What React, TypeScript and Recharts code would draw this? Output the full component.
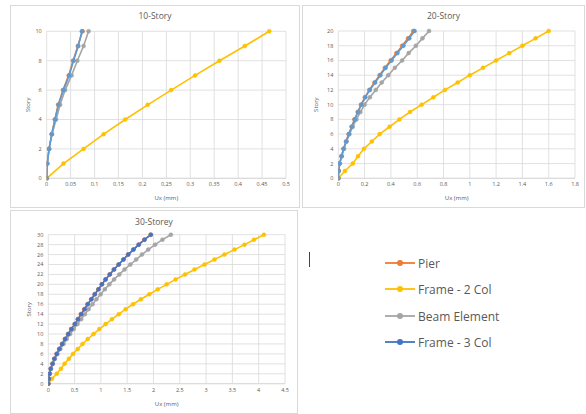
import { LineChart, Line, XAxis, YAxis, CartesianGrid, Label } from 'recharts'

// stories (y values)
const STORY_10 = [0, 1, 2, 3, 4, 5, 6, 7, 8, 9, 10]
const STORY_20 = [0, 1, 2, 3, 4, 5, 6, 7, 8, 9, 10, 11, 12, 13, 14, 15, 16, 17, 18, 19, 20]
const STORY_30 = [
  0, 1, 2, 3, 4, 5, 6, 7, 8, 9, 10, 11, 12, 13, 14, 15, 16, 17, 18, 19, 20, 21, 22, 23, 24, 25, 26,
  27, 28, 29, 30,
]

// Ux (mm) per story, 10-storey model
const PIER_10 = [0, 0.001, 0.005, 0.0105, 0.017, 0.024, 0.034, 0.046, 0.055, 0.065, 0.075]
const FRAME2_10 = [0, 0.035, 0.077, 0.119, 0.164, 0.211, 0.26, 0.31, 0.361, 0.414, 0.465]
const BEAM_10 = [0, 0.001, 0.005, 0.011, 0.0196, 0.028, 0.0385, 0.052, 0.064, 0.077, 0.0875]
const FRAME3_10 = [0, 0.001, 0.005, 0.0105, 0.0175, 0.0245, 0.035, 0.047, 0.056, 0.066, 0.0735]

// 20-storey model
const PIER_20 = [
  0, 0.003, 0.01, 0.024, 0.04, 0.059, 0.079, 0.101, 0.123, 0.148, 0.173, 0.202, 0.236, 0.275,
  0.314, 0.354, 0.398, 0.442, 0.486, 0.53, 0.57,
]
const FRAME2_20 = [
  0, 0.05, 0.11, 0.15, 0.195, 0.255, 0.315, 0.39, 0.465, 0.545, 0.634, 0.723, 0.811, 0.908, 1.0,
  1.1, 1.2, 1.3, 1.4, 1.5, 1.6,
]
const BEAM_20 = [
  0, 0.003, 0.011, 0.026, 0.043, 0.063, 0.085, 0.11, 0.138, 0.168, 0.2, 0.24, 0.285, 0.33, 0.38,
  0.43, 0.485, 0.535, 0.59, 0.64, 0.69,
]
const FRAME3_20 = [
  0, 0.003, 0.01, 0.025, 0.04, 0.06, 0.08, 0.103, 0.125, 0.15, 0.175, 0.205, 0.24, 0.28, 0.32,
  0.36, 0.405, 0.45, 0.495, 0.54, 0.58,
]

// 30-storey model
const PIER_30 = [
  0, 0.01, 0.025, 0.045, 0.078, 0.113, 0.157, 0.207, 0.26, 0.315, 0.375, 0.435, 0.5, 0.56, 0.62,
  0.685, 0.745, 0.815, 0.88, 0.95, 1.015, 1.085, 1.165, 1.245, 1.335, 1.425, 1.515, 1.615, 1.715,
  1.825, 1.945,
]
const FRAME2_30 = [
  0, 0.07, 0.16, 0.24, 0.31, 0.39, 0.47, 0.56, 0.65, 0.75, 0.86, 0.97, 1.09, 1.21, 1.34, 1.47,
  1.61, 1.76, 1.92, 2.08, 2.25, 2.42, 2.6, 2.78, 2.97, 3.16, 3.35, 3.54, 3.73, 3.91, 4.1,
]
const BEAM_30 = [
  0, 0.01, 0.027, 0.05, 0.085, 0.125, 0.175, 0.23, 0.29, 0.35, 0.415, 0.485, 0.555, 0.625, 0.695,
  0.765, 0.84, 0.915, 0.995, 1.075, 1.16, 1.25, 1.35, 1.45, 1.56, 1.67, 1.78, 1.9, 2.03, 2.17,
  2.33,
]
const FRAME3_30 = [
  0, 0.01, 0.025, 0.045, 0.08, 0.115, 0.16, 0.21, 0.265, 0.32, 0.38, 0.44, 0.505, 0.565, 0.625,
  0.69, 0.75, 0.82, 0.885, 0.955, 1.02, 1.09, 1.17, 1.25, 1.34, 1.43, 1.52, 1.62, 1.72, 1.83,
  1.95,
]

// axis ticks
const X_TICKS_10 = [0, 0.05, 0.1, 0.15, 0.2, 0.25, 0.3, 0.35, 0.4, 0.45, 0.5]
const Y_TICKS_10 = [0, 2, 4, 6, 8, 10]
const X_TICKS_20 = [0, 0.2, 0.4, 0.6, 0.8, 1, 1.2, 1.4, 1.6, 1.8]
const Y_TICKS_20 = [0, 2, 4, 6, 8, 10, 12, 14, 16, 18, 20]
const X_TICKS_30 = [0, 0.5, 1, 1.5, 2, 2.5, 3, 3.5, 4, 4.5]
const Y_TICKS_30 = [0, 2, 4, 6, 8, 10, 12, 14, 16, 18, 20, 22, 24, 26, 28, 30]

const SERIES_NAMES = ['Pier', 'Frame - 2 Col', 'Beam Element', 'Frame - 3 Col']

const ORANGE = '#ED7D31'
const GOLD = '#FFC000'
const GREY = '#A5A5A5'
const BLUE = '#4472C4'
const LIGHT_BLUE = '#5B9BD5'
const TEXT = '#595959'
const GRID = '#d9d9d9'
const FONT = '"Open Sans", "Liberation Sans", sans-serif'

const toPoints = (stories: number[], values: number[]) =>
  stories.map((s, i) => ({ ux: values[i], story: s }))

interface PanelProps {
  left: number
  top: number
  width: number
  height: number
  title: string
  titleY: number
  margin: { top: number; right: number; bottom: number; left: number }
  yAxisWidth: number
  stories: number[]
  values: number[][]
  colors: string[]
  xTicks: number[]
  yTicks: number[]
}

function Panel(p: PanelProps) {
  return (
    <div
      style={{
        position: 'absolute',
        left: p.left,
        top: p.top,
        width: p.width,
        height: p.height,
        boxShadow: `inset 0 0 0 1px ${GRID}`,
      }}
    >
      <div
        style={{
          position: 'absolute',
          left: 0,
          width: p.width,
          top: p.titleY - 6,
          height: 12,
          lineHeight: '12px',
          textAlign: 'center',
          fontSize: 8.5,
          color: TEXT,
          fontFamily: FONT,
        }}
      >
        {p.title}
      </div>
      <LineChart width={p.width} height={p.height} margin={p.margin} style={{ fontFamily: FONT }}>
        <CartesianGrid stroke={GRID} strokeWidth={0.8} />
        <XAxis
          type="number"
          dataKey="ux"
          domain={[p.xTicks[0], p.xTicks[p.xTicks.length - 1]]}
          ticks={p.xTicks}
          interval={0}
          allowDataOverflow
          tick={{ fontSize: 5.5, fill: TEXT }}
          tickSize={0}
          tickMargin={4}
          tickLine={false}
          axisLine={{ stroke: GRID }}
          height={22}
        >
          <Label value="Ux (mm)" position="insideBottom" offset={0} style={{ fontSize: 6, fill: TEXT }} />
        </XAxis>
        <YAxis
          type="number"
          domain={[p.yTicks[0], p.yTicks[p.yTicks.length - 1]]}
          ticks={p.yTicks}
          interval={0}
          tick={{ fontSize: 5.5, fill: TEXT }}
          tickSize={0}
          tickMargin={5}
          tickLine={false}
          axisLine={false}
          width={p.yAxisWidth}
        >
          <Label value="Story" angle={-90} position="center" style={{ fontSize: 6, fill: TEXT }} />
        </YAxis>
        {p.values.map((vals, i) => (
          <Line
            key={SERIES_NAMES[i]}
            name={SERIES_NAMES[i]}
            data={toPoints(p.stories, vals)}
            dataKey="story"
            stroke={p.colors[i]}
            strokeWidth={1.6}
            dot={{ r: 2, fill: p.colors[i], stroke: p.colors[i], strokeWidth: 0.5 }}
            activeDot={false}
            isAnimationActive={false}
          />
        ))}
      </LineChart>
    </div>
  )
}

const LEGEND_COLORS = [ORANGE, GOLD, GREY, BLUE]
const LEGEND_ROWS = [263, 289, 316, 342]

export default function App() {
  return (
    <div
      style={{
        position: 'absolute',
        left: 0,
        top: 0,
        width: 586,
        height: 414,
        background: '#fff',
        overflow: 'hidden',
      }}
    >
      <Panel
        left={10}
        top={5}
        width={290}
        height={203}
        title="10-Story"
        titleY={10.7}
        margin={{ top: 26.3, right: 14, bottom: 7.7, left: 0 }}
        yAxisWidth={36.7}
        stories={STORY_10}
        values={[PIER_10, FRAME2_10, BEAM_10, FRAME3_10]}
        colors={[ORANGE, GOLD, GREY, LIGHT_BLUE]}
        xTicks={X_TICKS_10}
        yTicks={Y_TICKS_10}
      />
      <Panel
        left={302}
        top={5}
        width={283}
        height={203}
        title="20-Story"
        titleY={10.7}
        margin={{ top: 26, right: 10, bottom: 7.7, left: -8.3 }}
        yAxisWidth={44.6}
        stories={STORY_20}
        values={[PIER_20, FRAME2_20, BEAM_20, FRAME3_20]}
        colors={[ORANGE, GOLD, GREY, LIGHT_BLUE]}
        xTicks={X_TICKS_20}
        yTicks={Y_TICKS_20}
      />
      <Panel
        left={10}
        top={210}
        width={288}
        height={204}
        title="30-Storey"
        titleY={12}
        margin={{ top: 24.7, right: 13, bottom: 8.3, left: 0 }}
        yAxisWidth={38.3}
        stories={STORY_30}
        values={[PIER_30, FRAME2_30, BEAM_30, FRAME3_30]}
        colors={[ORANGE, GOLD, GREY, BLUE]}
        xTicks={X_TICKS_30}
        yTicks={Y_TICKS_30}
      />
      {/* text cursor mark */}
      <div style={{ position: 'absolute', left: 309, top: 252, width: 1, height: 15, background: '#444' }} />
      {SERIES_NAMES.map((name, i) => (
        <div
          key={name}
          style={{
            position: 'absolute',
            left: 384,
            top: LEGEND_ROWS[i] - 8,
            height: 16,
            display: 'flex',
            alignItems: 'center',
            fontFamily: FONT,
            fontSize: 12,
            color: TEXT,
            whiteSpace: 'nowrap',
          }}
        >
          <svg width={32} height={16}>
            <line x1={1} y1={8} x2={31} y2={8} stroke={LEGEND_COLORS[i]} strokeWidth={1.8} />
            <circle cx={16} cy={8} r={3} fill={LEGEND_COLORS[i]} />
          </svg>
          <span style={{ marginLeft: 2 }}>{name}</span>
        </div>
      ))}
    </div>
  )
}
